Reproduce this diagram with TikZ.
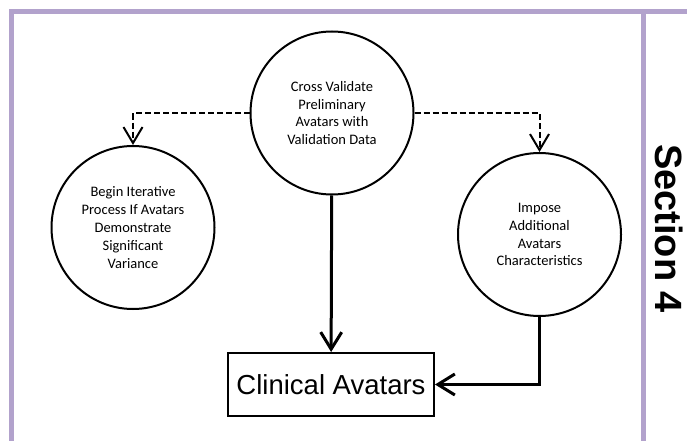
\documentclass[tikz,border=0pt]{standalone}
\usepackage{fontspec}
\setmainfont{Carlito}
\newfontfamily\arialfont{Liberation Sans}
\usepackage{tikz}
\usetikzlibrary{arrows.meta, positioning}

\begin{document}
\begin{tikzpicture}[
  x=1pt, y=-1pt,
  stage/.style={draw, circle, line width=2pt, minimum size=163pt,
                font=\fontsize{14.5}{17.8}\selectfont, align=center, inner sep=2pt},
  result/.style={draw, rectangle, line width=2pt, minimum width=206pt,
                 minimum height=63pt, font=\arialfont\fontsize{27.5}{32}\selectfont},
  arr/.style={-{Straight Barb[length=17pt, width=21pt]}, line width=3pt},
  opt/.style={-{Straight Barb[length=16pt, width=19pt]}, line width=2pt,
              dash pattern=on 6pt off 3pt},
  frame/.style={line width=5pt, color=lav}
]
\definecolor{lav}{RGB}{178,162,204}
\useasboundingbox (0,0) rectangle (687,441);
% page frame
\draw[frame] (11.7,441) |- (687,11.8);
\draw[frame] (643.5,11.8) -- (643.5,441);
\node[rotate=-90, font=\arialfont\bfseries\fontsize{38}{42}\selectfont] (sec) at (669.5,228.5) {Section 4};
% stages
\node[stage] (cval)   at (332,113)     {Cross Validate\\Preliminary\\Avatars with\\Validation Data};
\node[stage] (iter)   at (133,227.5)   {Begin Iterative\\Process If Avatars\\Demonstrate\\Significant\\Variance};
\node[stage] (impose) at (539.5,234.5) {Impose\\Additional\\Avatars\\Characteristics};
\node[result] (avatars) at (331,384.5) {Clinical Avatars};
% optional branches
\draw[opt] (cval.west) -| (iter.north);
\draw[opt] (cval.east) -| (impose.north);
% main flow
\draw[arr] (cval) -- (avatars);
\draw[arr] (impose.south) |- (avatars.east);
\end{tikzpicture}
\end{document}
